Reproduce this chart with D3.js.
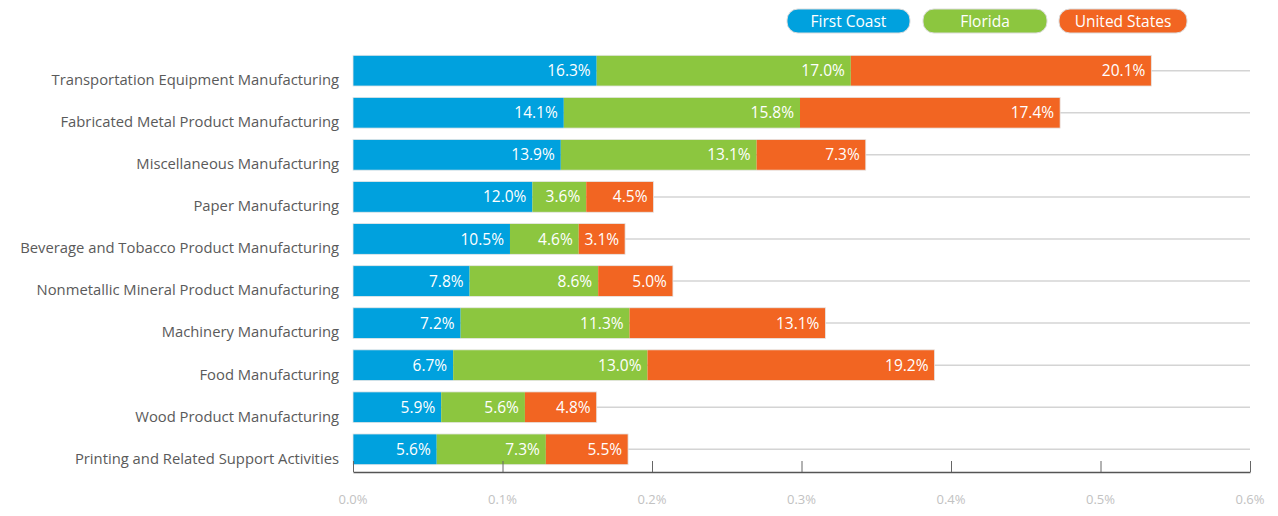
<!DOCTYPE html>
<html><head><meta charset="utf-8">
<script src="https://cdn.jsdelivr.net/npm/d3@7/dist/d3.min.js"></script>
<style>body{margin:0;background:#fff;} svg{display:block;font-family:"Open Sans",sans-serif;}</style>
</head><body>
<svg id="c" width="1278" height="516"></svg>
<script>
const categories = ["Transportation Equipment Manufacturing","Fabricated Metal Product Manufacturing","Miscellaneous Manufacturing","Paper Manufacturing","Beverage and Tobacco Product Manufacturing","Nonmetallic Mineral Product Manufacturing","Machinery Manufacturing","Food Manufacturing","Wood Product Manufacturing","Printing and Related Support Activities"];
const seriesNames = ["First Coast","Florida","United States"];
const firstCoast = [16.3,14.1,13.9,12.0,10.5,7.8,7.2,6.7,5.9,5.6];
const florida = [17.0,15.8,13.1,3.6,4.6,8.6,11.3,13.0,5.6,7.3];
const unitedStates = [20.1,17.4,7.3,4.5,3.1,5.0,13.1,19.2,4.8,5.5];
const tickValues = [0,0.1,0.2,0.3,0.4,0.5,0.6];
const tickLabels = ["0.0%","0.1%","0.2%","0.3%","0.4%","0.5%","0.6%"];
const colors = ["#00a1de","#8cc63f","#f26522"];

const svg = d3.select("#c");
const x = d3.scaleLinear().domain([0,0.6]).range([353,1250]);
const y = d3.scaleBand().domain(categories).range([49,471]).paddingInner(0.27).paddingOuter(0.15);

const rows = categories.map((c,i)=>({cat:c, vals:[firstCoast[i],florida[i],unitedStates[i]]}));
const table = rows.map(r=>{const o={cat:r.cat}; seriesNames.forEach((s,j)=>o[s]=r.vals[j]/100); return o;});
const stacked = d3.stack().keys(seriesNames)(table);

// gridlines
svg.append("g").selectAll("line").data(categories).join("line")
  .attr("x1",x(0)).attr("x2",x(0.6))
  .attr("y1",d=>y(d)+y.bandwidth()/2).attr("y2",d=>y(d)+y.bandwidth()/2)
  .attr("stroke","#d4d4d4").attr("stroke-width",1.5);

// bars
const g = svg.append("g");
stacked.forEach((layer,j)=>{
  const lg = g.append("g");
  lg.selectAll("rect").data(layer).join("rect")
    .attr("x",d=>x(d[0])).attr("width",d=>x(d[1])-x(d[0]))
    .attr("y",d=>y(d.data.cat)).attr("height",y.bandwidth())
    .attr("fill",colors[j]);
  lg.selectAll("text").data(layer).join("text")
    .attr("x",d=>x(d[1])-6).attr("y",d=>y(d.data.cat)+y.bandwidth()/2)
    .attr("dy","0.36em").attr("text-anchor","end")
    .attr("fill","#fff").attr("font-size",15.5)
    .text(d=>(d.data[seriesNames[j]]*100).toFixed(1)+"%");
});
// bar outline (light)
g.selectAll("rect.o").data(stacked[2]).join("rect").attr("class","o")
  .attr("x",x(0)).attr("width",d=>x(d[1])-x(0))
  .attr("y",d=>y(d.data.cat)).attr("height",y.bandwidth())
  .attr("fill","none").attr("stroke","#e6e6e6").attr("stroke-width",0.8);

// category labels
svg.append("g").selectAll("text").data(categories).join("text")
  .attr("x",339).attr("y",d=>y(d)+y.bandwidth()/2+9)
  .attr("dy","0.36em").attr("text-anchor","end")
  .attr("fill","#5a5a5a").attr("font-size",14.8)
  .text(d=>d);

// x axis
const ax = svg.append("g").attr("transform","translate(0,472)")
  .call(d3.axisTop(x).tickValues(tickValues).tickFormat("").tickSize(11).tickSizeOuter(0));
ax.select(".domain").attr("stroke","#555").attr("stroke-width",1.5);
ax.selectAll(".tick line").attr("stroke","#666").attr("stroke-width",1);
svg.append("g").selectAll("text").data(tickValues).join("text")
  .attr("x",d=>x(d)).attr("y",504).attr("text-anchor","middle")
  .attr("fill","#c2c2c2").attr("font-size",13)
  .text((d,i)=>tickLabels[i]);

// legend
const legX = [787,923,1059], legW = [123,124,128];
const lg = svg.append("g");
seriesNames.forEach((s,i)=>{
  lg.append("rect").attr("x",legX[i]).attr("y",9).attr("width",legW[i]).attr("height",24)
    .attr("rx",11).attr("fill",colors[i]).attr("stroke","#dcdcdc").attr("stroke-width",1);
  lg.append("text").attr("x",legX[i]+legW[i]/2).attr("y",21).attr("dy","0.36em")
    .attr("text-anchor","middle").attr("fill","#fff").attr("font-size",15.5).attr("font-weight",500)
    .text(s);
});
</script>
</body></html>
